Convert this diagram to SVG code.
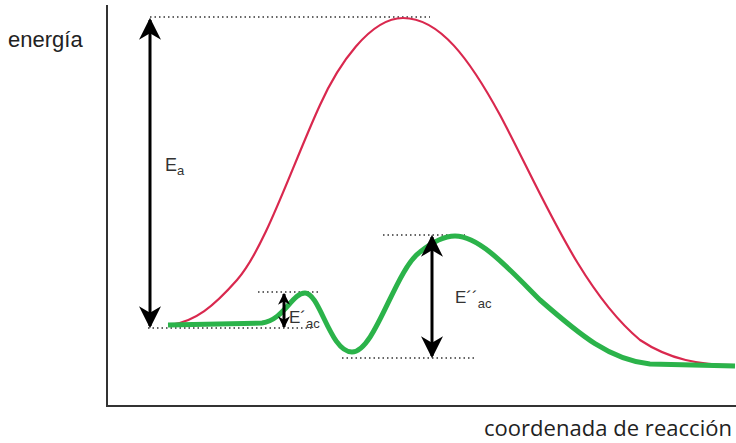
<svg xmlns="http://www.w3.org/2000/svg" width="736" height="443" viewBox="0 0 736 443">
<defs>
<style>
.ax{stroke:#333;stroke-width:2;fill:none}
.dot{stroke:#333;stroke-width:1.5;stroke-dasharray:1.5 3;fill:none}
.arr{stroke:#000;stroke-width:3;fill:none}
.lbl{font-family:"Liberation Sans",Arial,sans-serif;fill:#222}
.sym{font-family:"Liberation Sans",Arial,sans-serif;fill:#333}
</style>
<marker id="ahL" viewBox="0 0 10 10" refX="9" refY="5" markerWidth="26" markerHeight="22" markerUnits="userSpaceOnUse" orient="auto-start-reverse">
<path d="M0,0 L10,5 L0,10 L3,5 Z" fill="#000"/>
</marker>
<marker id="ahS" viewBox="0 0 10 10" refX="9" refY="5" markerWidth="14" markerHeight="12" markerUnits="userSpaceOnUse" orient="auto-start-reverse">
<path d="M0,0 L10,5 L0,10 L3,5 Z" fill="#000"/>
</marker>
</defs>
<g id="axes">
<path class="ax" d="M107,5 L107,406 L736,406"/>
</g>
<g id="labels">
<text class="lbl" x="8" y="47" font-size="22">energía</text>
<text x="484" y="436" font-size="22" fill="#222" font-family="'Open Sans',sans-serif" textLength="248">coordenada de reacción</text>
</g>
<g id="guides">
<line class="dot" x1="150" y1="17" x2="430" y2="17"/>
<line class="dot" x1="148" y1="328" x2="312" y2="328"/>
<line class="dot" x1="258" y1="292" x2="318" y2="292"/>
<line class="dot" x1="383" y1="235" x2="465" y2="235"/>
<line class="dot" x1="342" y1="358" x2="475" y2="358"/>
</g>
<g id="curves">
<path id="uncatalyzed" d="M170,325 C195,322 214,306 237,280 C265,248 292,166 320,105 C338,65 370,18 403,18 C440,18 470,60 500,115 C540,190 580,290 640,340 C670,360 700,365 735,365" fill="none" stroke="#d9284e" stroke-width="2.2"/>
<path id="catalyzed" d="M168,325 L262,323 C284,320 292,293 305,293 C320,293 330,352 352,352 C375,352 395,270 420,252 C435,240 445,236 455,236 C480,236 510,270 540,300 C580,335 610,360 650,364 L735,366" fill="none" stroke="#2bb34a" stroke-width="5" stroke-linejoin="round"/>
</g>
<g id="connectors">
<line class="arr" x1="150" y1="20" x2="150" y2="326" marker-start="url(#ahL)" marker-end="url(#ahL)"/>
<line class="arr" x1="284" y1="294" x2="284" y2="327" stroke-width="2.5" marker-start="url(#ahS)" marker-end="url(#ahS)"/>
<line class="arr" x1="432" y1="237" x2="432" y2="356" marker-start="url(#ahL)" marker-end="url(#ahL)"/>
</g>
<g id="Ea">
<text class="sym" x="165" y="171" font-size="18">E<tspan font-size="13" dy="4">a</tspan></text>
</g>
<g id="Eac1">
<text class="sym" x="289" y="323" font-size="17">E´<tspan font-size="13" dy="5">ac</tspan></text>
</g>
<g id="Eac2">
<text class="sym" x="455" y="303" font-size="17">E´´<tspan font-size="13" dy="5">ac</tspan></text>
</g>
</svg>
